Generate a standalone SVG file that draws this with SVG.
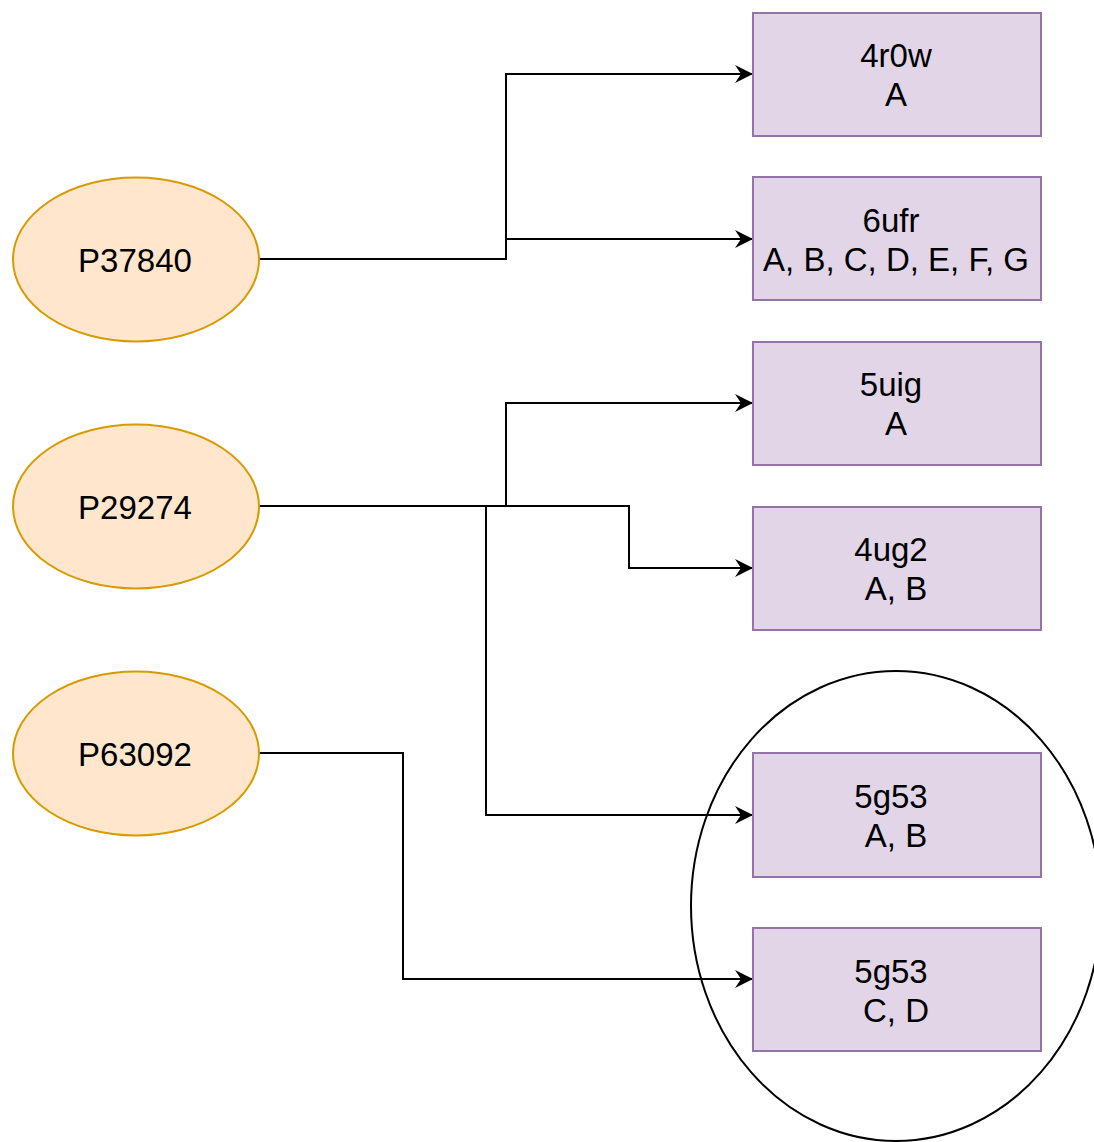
<svg xmlns="http://www.w3.org/2000/svg" width="1094" height="1142" viewBox="0 0 1094 1142">
  <style>
    .protein { fill: #ffe6cc; stroke: #d79b00; stroke-width: 2; }
    .entry { fill: #e1d5e7; stroke: #9673a6; stroke-width: 2; }
    .label { font-family: "Liberation Sans", Arial, sans-serif; font-size: 33px; fill: #000; text-anchor: middle; }
    .edge { fill: none; stroke: #000; stroke-width: 2; marker-end: url(#arrow); }
    .group-ring { fill: none; stroke: #000; stroke-width: 2; }
  </style>
  <defs>
    <marker id="arrow" markerUnits="userSpaceOnUse" viewBox="-20 -10 22 20" markerWidth="22" markerHeight="20" refX="0" refY="0" orient="auto">
      <path d="M0,0 L-18,-9 L-12,0 L-18,9 Z" fill="#000"/>
    </marker>
  </defs>
  <rect width="1094" height="1142" fill="#fff"/>

  <!-- connectors -->
  <g id="connectors">
    <path class="edge" d="M259,259 H506 V74 H753"/>
    <path class="edge" d="M259,259 H506 V239 H753"/>
    <path class="edge" d="M259,506 H506 V403 H753"/>
    <path class="edge" d="M259,506 H629 V568 H753"/>
    <path class="edge" d="M259,506 H486 V815 H753"/>
    <path class="edge" d="M259,753 H403 V979 H753"/>
  </g>

  <!-- proteins -->
  <g id="P37840">
    <ellipse class="protein" cx="136" cy="259.5" rx="123" ry="82"/>
    <text class="label" x="135" y="271.5">P37840</text>
  </g>
  <g id="P29274">
    <ellipse class="protein" cx="136" cy="506.5" rx="123" ry="82"/>
    <text class="label" x="135" y="518.5">P29274</text>
  </g>
  <g id="P63092">
    <ellipse class="protein" cx="136" cy="753.5" rx="123" ry="82"/>
    <text class="label" x="135" y="765.5">P63092</text>
  </g>

  <!-- structure entries -->
  <g id="e4r0w">
    <rect class="entry" x="753" y="13" width="288" height="123"/>
    <text class="label" x="896" y="67">4r0w</text>
    <text class="label" x="896" y="106">A</text>
  </g>
  <g id="e6ufr">
    <rect class="entry" x="753" y="177" width="288" height="123"/>
    <text class="label" x="891" y="232">6ufr</text>
    <text class="label" x="896" y="271">A, B, C, D, E, F, G</text>
  </g>
  <g id="e5uig">
    <rect class="entry" x="753" y="342" width="288" height="123"/>
    <text class="label" x="891" y="396">5uig</text>
    <text class="label" x="896" y="435">A</text>
  </g>
  <g id="e4ug2">
    <rect class="entry" x="753" y="507" width="288" height="123"/>
    <text class="label" x="891" y="561">4ug2</text>
    <text class="label" x="896" y="600">A, B</text>
  </g>
  <g id="e5g53AB">
    <rect class="entry" x="753" y="753" width="288" height="124"/>
    <text class="label" x="891" y="808">5g53</text>
    <text class="label" x="896" y="847">A, B</text>
  </g>
  <g id="e5g53CD">
    <rect class="entry" x="753" y="928" width="288" height="123"/>
    <text class="label" x="891" y="983">5g53</text>
    <text class="label" x="896" y="1022">C, D</text>
  </g>

  <!-- grouping ring around the 5g53 chains -->
  <g id="ring">
    <ellipse class="group-ring" cx="896" cy="906" rx="205" ry="235"/>
  </g>
</svg>
